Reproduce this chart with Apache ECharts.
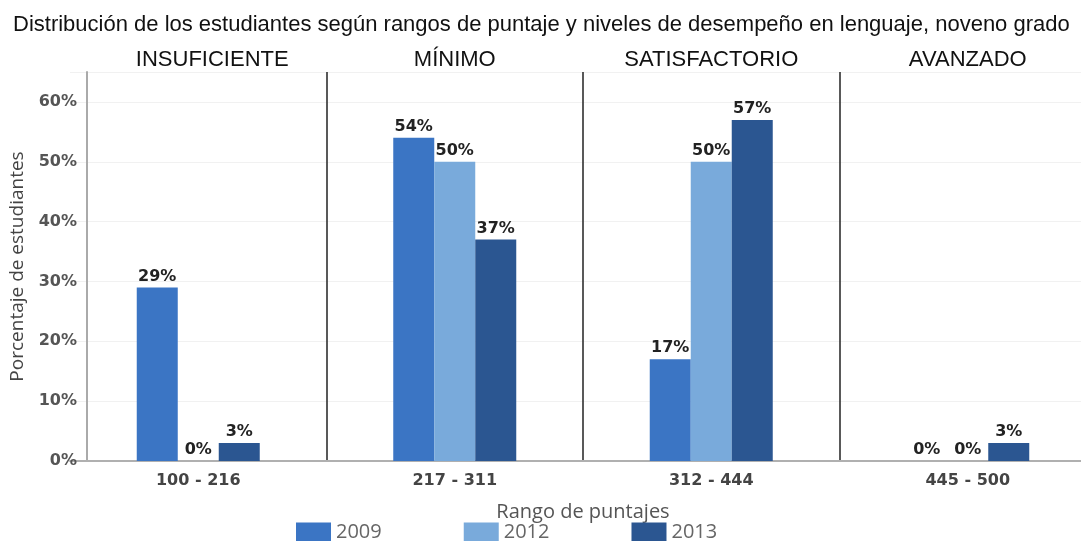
<!DOCTYPE html>
<html>
<head>
<meta charset="utf-8">
<script src="https://cdn.jsdelivr.net/npm/echarts@6/dist/echarts.min.js"></script>
<style>
  html, body { margin: 0; padding: 0; background: #fff; }
  #main { width: 1081px; height: 541px; }
</style>
</head>
<body>
<div id="main"></div>
<script>
// rangos de puntaje y niveles
var rangos = ['100 - 216', '217 - 311', '312 - 444', '445 - 500'];
var niveles = ['INSUFICIENTE', 'MÍNIMO', 'SATISFACTORIO', 'AVANZADO'];
var anios = ['2009', '2012', '2013'];
var v2009 = [29, 54, 17, 0];
var v2012 = [0, 50, 50, 0];
var v2013 = [3, 37, 57, 3];
var yTicks = [0, 10, 20, 30, 40, 50, 60];

var colores = ['#3b75c4', '#79aadb', '#2b5691'];

var chart = echarts.init(document.getElementById('main'));

function serie(name, data, color) {
  return {
    name: name,
    type: 'bar',
    data: data,
    barWidth: 41,
    barGap: '0%',
    itemStyle: { color: color },
    label: {
      show: true,
      position: 'top',
      distance: 3,
      formatter: '{c}%',
      color: '#222',
      fontFamily: 'DejaVu Sans',
      fontWeight: 'bold',
      fontSize: 16
    }
  };
}

var option = {
  animation: false,
  title: {
    text: 'Distribución de los estudiantes según rangos de puntaje y niveles de desempeño en lenguaje, noveno grado',
    left: 8,
    top: 9,
    textStyle: {
      fontFamily: 'Liberation Sans',
      fontWeight: 'normal',
      fontSize: 22,
      color: '#111'
    }
  },
  legend: {
    left: 291,
    top: 517,
    itemWidth: 35,
    itemHeight: 19,
    itemGap: 82,
    icon: 'rect',
    data: anios,
    textStyle: { color: '#666', fontSize: 20, fontFamily: 'Open Sans' }
  },
  grid: { left: 70, width: 1026, top: 72, bottom: 80, outerBoundsMode: 'none', containLabel: false },
  xAxis: [
    {
      type: 'category',
      data: rangos,
      name: 'Rango de puntajes',
      nameLocation: 'middle',
      nameGap: 41,
      nameTextStyle: { color: '#555', fontSize: 20, fontFamily: 'Open Sans' },
      axisLine: { lineStyle: { color: '#b0b0b0', width: 2 } },
      axisTick: { alignWithLabel: true, length: 3, lineStyle: { color: '#999' } },
      axisLabel: { color: '#444', fontSize: 16, fontWeight: 'bold', fontFamily: 'DejaVu Sans', margin: 12 },
      splitLine: {
        show: true,
        interval: function (i) { return i > 0; },
        lineStyle: { color: '#222', width: 1.5 }
      }
    },
    {
      type: 'category',
      position: 'top',
      data: niveles,
      axisLine: { show: false },
      axisTick: { show: false },
      axisLabel: {
        color: '#111',
        fontSize: 22,
        fontFamily: 'Liberation Sans',
        margin: 1,
        formatter: function (v, i) { return i === 0 ? '{a|' + v + '}' : v; },
        rich: { a: { fontSize: 22, fontFamily: 'Liberation Sans', color: '#111', padding: [0, 0, 0, 28] } }
      }
    }
  ],
  yAxis: {
    type: 'value',
    min: 0,
    max: 65,
    interval: 10,
    offset: -17,
    name: 'Porcentaje de estudiantes',
    nameLocation: 'middle',
    nameGap: 60,
    nameTextStyle: { color: '#444', fontSize: 19, fontFamily: 'Open Sans' },
    axisLine: { show: true, lineStyle: { color: '#aaa', width: 2 } },
    axisTick: { show: false },
    axisLabel: {
      showMaxLabel: false,
      formatter: function (v) { return yTicks.indexOf(v) >= 0 ? v + '%' : ''; },
      color: '#555',
      fontSize: 16,
      fontWeight: 'bold',
      fontFamily: 'DejaVu Sans',
      margin: 10
    },
    splitLine: { show: true, lineStyle: { color: '#f1f1f1' } }
  },
  series: [
    serie(anios[0], v2009, colores[0]),
    serie(anios[1], v2012, colores[1]),
    serie(anios[2], v2013, colores[2])
  ]
};

chart.setOption(option);
</script>
</body>
</html>
